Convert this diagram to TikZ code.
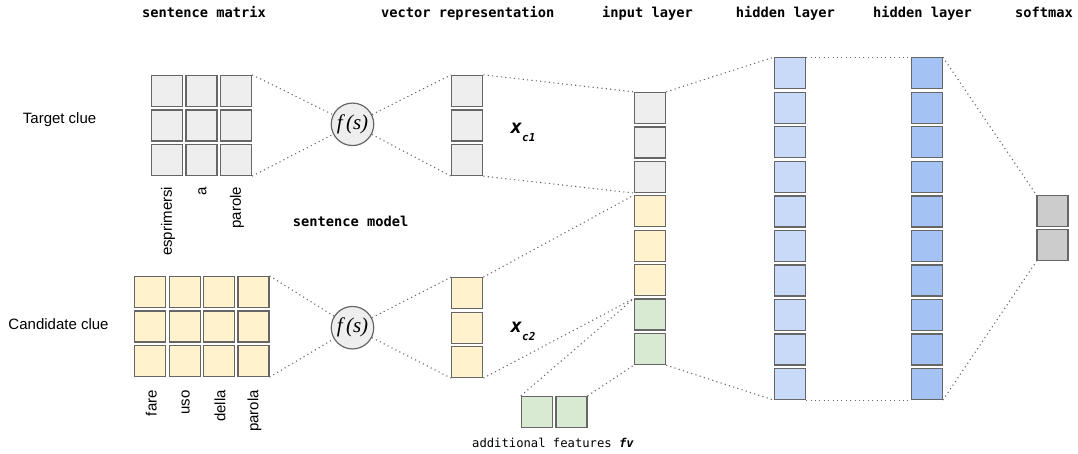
\documentclass[tikz,border=0pt]{standalone}
\usepackage{fontspec}
\setmainfont{Liberation Sans}
\newfontfamily\monof{DejaVu Sans Mono}
\newfontfamily\serifit{Liberation Serif}
\definecolor{cgray}{HTML}{EEEEEE}
\definecolor{cyel}{HTML}{FFF2CC}
\definecolor{cgrn}{HTML}{D9EAD3}
\definecolor{cbluA}{HTML}{C9DAF8}
\definecolor{cbluB}{HTML}{A4C2F4}
\definecolor{csoft}{HTML}{CCCCCC}
\definecolor{cedge}{HTML}{666666}
\definecolor{cdot}{HTML}{666666}
\begin{document}
\begin{tikzpicture}[x=1pt,y=-1pt,
  cell/.style={draw=cedge, line width=1.3pt, minimum size=31pt, inner sep=0pt},
  conn/.style={draw=cdot, line width=1.1pt, dash pattern=on 1.1pt off 3.3pt},
  fsnode/.style={circle, draw=cedge, line width=1.2pt, fill=cgray, minimum size=42.5pt, inner sep=0pt, font=\serifit\itshape\fontsize{21}{21}\selectfont},
  title/.style={anchor=base, inner sep=0pt, font=\monof\bfseries\fontsize{13.7}{14}\selectfont},
  clue/.style={anchor=base west, inner sep=0pt, font=\fontsize{15}{15}\selectfont},
  word/.style={rotate=90, anchor=east, inner sep=0pt, font=\fontsize{15}{15}\selectfont}]
\path[use as bounding box] (0,0) rectangle (1078,453);

% titles
\node[title] (t1) at (204,17.5) {sentence matrix};
\node[title] (t2) at (467.7,17.5) {vector representation};
\node[title] (t3) at (647.5,17.5) {input layer};
\node[title] (t4) at (785.3,17.5) {hidden layer};
\node[title] (t5) at (922.5,17.5) {hidden layer};
\node[title] (t6) at (1044,17.5) {softmax};

% target sentence matrix
\foreach \r/\y in {1/91,2/125.5,3/160}
  \foreach \c/\x in {1/167,2/201.5,3/236}
    \node[cell,fill=cgray] (tm\r\c) at (\x,\y) {};
% candidate sentence matrix
\foreach \r/\y in {1/292,2/326.5,3/361}
  \foreach \c/\x in {1/150.3,2/184.7,3/219,4/253.4}
    \node[cell,fill=cyel] (cm\r\c) at (\x,\y) {};

\node[clue] (lt) at (22.7,123.3) {Target clue};
\node[clue] (lc) at (8.3,329.3) {Candidate clue};

\node[word] (w1) at (168,186.5) {esprimersi};
\node[word] (w2) at (202.5,186.5) {a};
\node[word] (w3) at (237,186.5) {parole};
\node[word] (w4) at (151.3,390) {fare};
\node[word] (w5) at (185.7,390) {uso};
\node[word] (w6) at (220,390) {della};
\node[word] (w7) at (254.4,390) {parola};

% sentence model circles
\node[fsnode] (ft) at (352.5,124.3) {f\,(s)};
\node[fsnode] (fc) at (352.5,327.7) {f\,(s)};
\node[anchor=base, inner sep=0pt, font=\monof\bfseries\fontsize{13.7}{14}\selectfont] (sm) at (350.7,226) {sentence model};

% vector representations
\foreach \r/\y in {1/91,2/125.5,3/160}
  \node[cell,fill=cgray] (tv\r) at (467.2,\y) {};
\foreach \r/\y in {1/293.3,2/327.7,3/362}
  \node[cell,fill=cyel] (cv\r) at (467.2,\y) {};

\node[anchor=base west, inner sep=0pt, font=\monof\bfseries\itshape] (xa) at (510.5,133.5)
  {\fontsize{19}{19}\selectfont x\raisebox{-8pt}{\fontsize{11}{11}\selectfont c1}};
\node[anchor=base west, inner sep=0pt, font=\monof\bfseries\itshape] (xb) at (510.5,332)
  {\fontsize{19}{19}\selectfont x\raisebox{-8pt}{\fontsize{11}{11}\selectfont c2}};

% additional features
\node[cell,fill=cgrn] (af1) at (537,412) {};
\node[cell,fill=cgrn] (af2) at (571.5,412) {};
\node[anchor=base west, inner sep=0pt, font=\monof\fontsize{12.2}{12.2}\selectfont] (aft) at (472,447)
  {additional features \textbf{\textit{fv}}};

% input layer
\foreach \i/\col in {1/cgray,2/cgray,3/cgray,4/cyel,5/cyel,6/cyel,7/cgrn,8/cgrn}
  \node[cell,fill=\col] (in\i) at (650,{108+34.43*(\i-1)}) {};

% hidden layers
\foreach \i in {1,...,10} {
  \node[cell,fill=cbluA] (ha\i) at (790,{73.3+34.52*(\i-1)}) {};
  \node[cell,fill=cbluB] (hb\i) at (926.7,{73.3+34.52*(\i-1)}) {};
}

% softmax
\node[cell,fill=csoft] (sm1) at (1052.5,211) {};
\node[cell,fill=csoft] (sm2) at (1052.5,245.2) {};

% connectors
\draw[conn] (tm13.north east) -- (ft);
\draw[conn] (tm33.south east) -- (ft);
\draw[conn] (ft) -- (tv1.north west);
\draw[conn] (ft) -- (tv3.south west);
\draw[conn] (cm14.north east) -- (fc);
\draw[conn] (cm34.south east) -- (fc);
\draw[conn] (fc) -- (cv1.north west);
\draw[conn] (fc) -- (cv3.south west);
\draw[conn] (tv1.north east) -- (in1.north west);
\draw[conn] (tv3.south east) -- (in3.south west);
\draw[conn] (cv1.north east) -- (in4.north west);
\draw[conn] (cv3.south east) -- (in7.north west);
\draw[conn] (af1.north west) -- (in7.north west);
\draw[conn] (af2.north east) -- (in8.south west);
\draw[conn] (in1.north east) -- (ha1.north west);
\draw[conn] (in8.south east) -- (ha10.south west);
\draw[conn] (ha1.north east) -- (hb1.north west);
\draw[conn] (ha10.south east) -- (hb10.south west);
\draw[conn] (hb1.north east) -- (sm1.north west);
\draw[conn] (hb10.south east) -- (sm2.south west);
\end{tikzpicture}
\end{document}
